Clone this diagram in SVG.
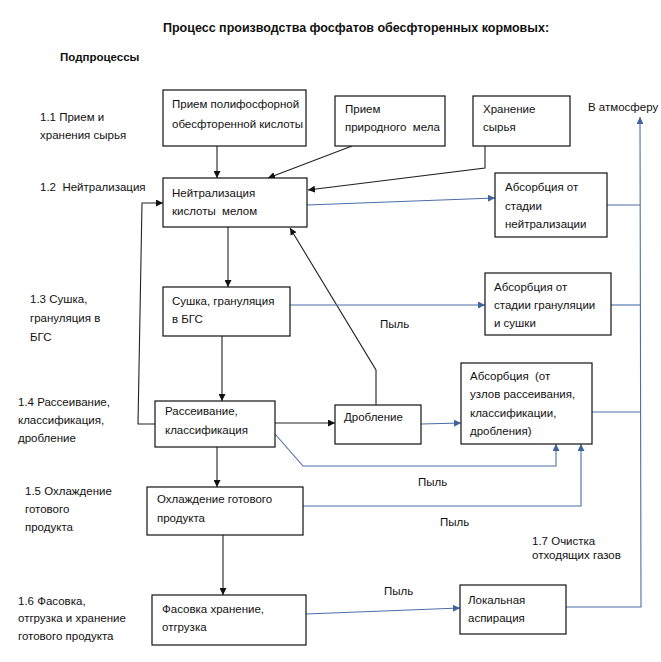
<svg xmlns="http://www.w3.org/2000/svg" width="661" height="662" viewBox="0 0 661 662">
<defs>
<style>
text{font-family:"Liberation Sans",Arial,sans-serif;font-size:11.5px;fill:#111;white-space:pre}
.t{font-weight:bold;font-size:12.5px}
.box{fill:#fff;stroke:#111;stroke-width:1.2}
.k{fill:none;stroke:#222;stroke-width:1.1}
.b{fill:none;stroke:#4a6ea8;stroke-width:1.1}
</style>
<marker id="ak" viewBox="0 0 10 10" refX="10" refY="5" markerWidth="7" markerHeight="7" orient="auto" markerUnits="userSpaceOnUse"><path d="M0,0 L10,5 L0,10 z" fill="#111"/></marker>
<marker id="ab" viewBox="0 0 10 10" refX="10" refY="5" markerWidth="7" markerHeight="7" orient="auto" markerUnits="userSpaceOnUse"><path d="M0,0 L10,5 L0,10 z" fill="#3f63a0"/></marker>
</defs>
<rect width="661" height="662" fill="#fff"/>
<text class="t" x="163" y="32">Процесс производства фосфатов обесфторенных кормовых:</text>
<text class="t" x="60" y="61" style="font-size:11.5px">Подпроцессы</text>

<g id="labels">
<text x="40" y="121">1.1 Прием и</text><text x="40" y="139">хранения сырья</text>
<text x="40" y="191" xml:space="preserve">1.2  Нейтрализация</text>
<text x="30" y="303">1.3 Сушка,</text><text x="30" y="322">грануляция в</text><text x="30" y="341">БГС</text>
<text x="18" y="406">1.4 Рассеивание,</text><text x="18" y="424">классификация,</text><text x="18" y="442">дробление</text>
<text x="25" y="495">1.5 Охлаждение</text><text x="25" y="513">готового</text><text x="25" y="531">продукта</text>
<text x="18" y="605">1.6 Фасовка,</text><text x="18" y="622">отгрузка и хранение</text><text x="18" y="640">готового продукта</text>
<text x="588" y="111">В атмосферу</text>
<text x="380" y="328">Пыль</text>
<text x="418" y="486">Пыль</text>
<text x="440" y="526">Пыль</text>
<text x="384" y="595">Пыль</text>
<text x="532" y="545">1.7 Очистка</text><text x="532" y="559">отходящих газов</text>
</g>

<g id="connectors">
<path class="k" d="M217,146 V178" marker-end="url(#ak)"/>
<path class="k" d="M352,146 L268,178" marker-end="url(#ak)"/>
<path class="k" d="M485,146 V168 L308,190" marker-end="url(#ak)"/>
<path class="k" d="M228,227 V287" marker-end="url(#ak)"/>
<path class="k" d="M222,336 V401" marker-end="url(#ak)"/>
<path class="k" d="M217,447 V487" marker-end="url(#ak)"/>
<path class="k" d="M223,535 V595" marker-end="url(#ak)"/>
<path class="k" d="M155,424 H138 L142,203 H163" marker-end="url(#ak)"/>
<path class="k" d="M275,423 H335" marker-end="url(#ak)"/>
<path class="k" d="M376,405 V370 L290,228" marker-end="url(#ak)"/>
<path class="b" d="M307,205 L495,198" marker-end="url(#ab)"/>
<path class="b" d="M290,305 H485" marker-end="url(#ab)"/>
<path class="b" d="M421,424 L461,423" marker-end="url(#ab)"/>
<path class="b" d="M275,434 L303,466 H556 V444" marker-end="url(#ab)"/>
<path class="b" d="M303,506 H581 V444" marker-end="url(#ab)"/>
<path class="b" d="M306,614 L460,608" marker-end="url(#ab)"/>
<path class="b" d="M566,607 H641 L640,117" marker-end="url(#ab)"/>
<path class="b" d="M607,205 H640"/>
<path class="b" d="M611,305 H640"/>
<path class="b" d="M592,412 H641"/>
</g>

<g id="nodeA"><rect class="box" x="163" y="90" width="143" height="56"/><text x="172" y="108">Прием полифосфорной</text><text x="172" y="128">обесфторенной кислоты</text></g>
<g id="nodeB"><rect class="box" x="335" y="96" width="110" height="50"/><text x="345" y="113">Прием</text><text x="345" y="131" xml:space="preserve">природного  мела</text></g>
<g id="nodeC"><rect class="box" x="473" y="96" width="97" height="50"/><text x="483" y="113">Хранение</text><text x="483" y="131">сырья</text></g>
<g id="nodeD"><rect class="box" x="163" y="178" width="144" height="49"/><text x="172" y="197">Нейтрализация</text><text x="172" y="215" xml:space="preserve">кислоты  мелом</text></g>
<g id="nodeE"><rect class="box" x="495" y="173" width="112" height="64"/><text x="505" y="191">Абсорбция от</text><text x="505" y="210">стадии</text><text x="505" y="228">нейтрализации</text></g>
<g id="nodeF"><rect class="box" x="163" y="287" width="127" height="49"/><text x="172" y="305">Сушка, грануляция</text><text x="172" y="323">в БГС</text></g>
<g id="nodeG"><rect class="box" x="485" y="273" width="126" height="62"/><text x="494" y="291">Абсорбция от</text><text x="494" y="309">стадии грануляции</text><text x="494" y="327">и сушки</text></g>
<g id="nodeH"><rect class="box" x="155" y="401" width="120" height="46"/><text x="165" y="415">Рассеивание,</text><text x="165" y="434">классификация</text></g>
<g id="nodeI"><rect class="box" x="335" y="405" width="86" height="39"/><text x="344" y="421">Дробление</text></g>
<g id="nodeJ"><rect class="box" x="461" y="363" width="131" height="81"/><text x="470" y="380" xml:space="preserve">Абсорбция  (от</text><text x="470" y="398">узлов рассеивания,</text><text x="470" y="417">классификации,</text><text x="470" y="435">дробления)</text></g>
<g id="nodeK"><rect class="box" x="147" y="487" width="156" height="48"/><text x="157" y="503">Охлаждение готового</text><text x="157" y="522">продукта</text></g>
<g id="nodeL"><rect class="box" x="152" y="595" width="154" height="50"/><text x="162" y="613">Фасовка хранение,</text><text x="162" y="631">отгрузка</text></g>
<g id="nodeM"><rect class="box" x="460" y="585" width="106" height="49"/><text x="468" y="604">Локальная</text><text x="468" y="622">аспирация</text></g>
</svg>
